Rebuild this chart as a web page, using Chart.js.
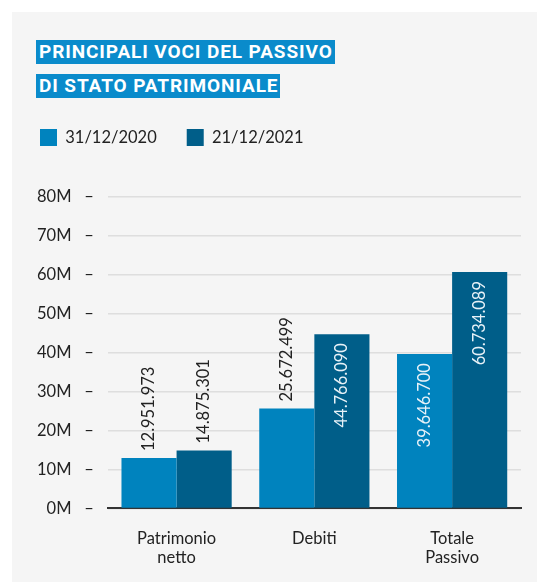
<!DOCTYPE html>
<html>
<head>
<meta charset="utf-8">
<script src="https://cdn.jsdelivr.net/npm/chart.js@4.4.1/dist/chart.umd.min.js"></script>
<style>
  html, body { margin: 0; padding: 0; background: #ffffff; }
  #pannello { position: absolute; left: 12px; top: 12px; width: 525px; height: 570px; background: #f5f5f5; }
  .titolo { position: absolute; left: 36px; background: #0a8bcb; color: #ffffff;
    font-family: Roboto, sans-serif; font-weight: 700; font-size: 19px; letter-spacing: 0.9px;
    line-height: 24px; padding: 0 2px 0 3px; white-space: nowrap; }
  #wrap { position: absolute; left: 0; top: 0; width: 537px; height: 582px; }
</style>
</head>
<body>
<div id="pannello"></div>
<div class="titolo" style="top:40px">PRINCIPALI VOCI DEL PASSIVO</div>
<div class="titolo" style="top:74px">DI STATO PATRIMONIALE</div>
<div id="wrap"><canvas id="graficoPassivo" width="537" height="582"></canvas></div>
<script>
  const categorie = [["Patrimonio", "netto"], "Debiti", ["Totale", "Passivo"]]
  const valori2020 = [12951973, 25672499, 39646700]
  const valori2021 = [14875301, 44766090, 60734089]
  const serie = ["31/12/2020", "21/12/2021"]

  const FONT = "Lato, sans-serif"

  const formatta = (n) => String(n).replace(/\B(?=(\d{3})+(?!\d))/g, ".")

  // etichette ruotate sopra / dentro le barre
  const etichette = {
    id: "etichette",
    afterDatasetsDraw(chart) {
      const ctx = chart.ctx
      chart.data.datasets.forEach((ds, i) => {
        chart.getDatasetMeta(i).data.forEach((barra, j) => {
          const v = ds.data[j]
          const dentro = v > 30000000
          ctx.save()
          ctx.font = "16.5px " + FONT
          ctx.textBaseline = "middle"
          if (dentro) {
            ctx.fillStyle = "#e8f2f8"
            ctx.translate(barra.x, barra.y + 9)
            ctx.rotate(-Math.PI / 2)
            ctx.textAlign = "right"
          } else {
            ctx.fillStyle = "#222222"
            ctx.translate(barra.x, barra.y - 7)
            ctx.rotate(-Math.PI / 2)
            ctx.textAlign = "left"
          }
          ctx.fillText(formatta(v), 0, 0)
          ctx.restore()
        })
      })
    },
  }

  // spazio sotto la legenda e legenda spostata a sinistra
  const spazioLegenda = {
    id: "spazioLegenda",
    beforeInit(chart) {
      const fit = chart.legend.fit
      chart.legend.fit = function () {
        fit.bind(this)()
        this.height += 41
      }
    },
    afterLayout(chart) {
      chart.legend.left = 40 - 30 
    },
  }

  const grafico = document.getElementById("graficoPassivo")

  new Chart(grafico, {
    type: "bar",
    data: {
      labels: categorie,
      datasets: [
        {
          label: serie[0],
          data: valori2020,
          backgroundColor: "#0083be",
          categoryPercentage: 0.8,
          barPercentage: 1.0,
        },
        {
          label: serie[1],
          data: valori2021,
          backgroundColor: "#005e89",
          categoryPercentage: 0.8,
          barPercentage: 1.0,
        },
      ],
    },
    options: {
      responsive: false,
      animation: false,
      devicePixelRatio: 1,
      layout: {
        padding: { left: 23, right: 16, top: 99, bottom: 2 },
      },
      plugins: {
        tooltip: { enabled: false },
        legend: {
          position: "top",
          align: "start",
          labels: {
            boxWidth: 17,
            boxHeight: 17,
            padding: 30,
            color: "#222222",
            font: { family: FONT, size: 16.5 },
          },
        },
      },
      scales: {
        x: {
          grid: { display: false },
          border: { display: true, color: "#333333", width: 2 },
          ticks: {
            color: "#222222",
            padding: 12,
            font: { family: FONT, size: 16.5, lineHeight: 1.2 },
            maxRotation: 0,
          },
        },
        y: {
          min: 0,
          max: 80000000,
          grid: { color: "#dedede", lineWidth: 1.5, drawTicks: false },
          border: { display: false },
          ticks: {
            stepSize: 10000000,
            color: "#222222",
            padding: 14,
            font: { family: FONT, size: 16.5 },
            callback: (v) => v / 1000000 + "M   \u2013",
          },
        },
      },
    },
    plugins: [etichette, spazioLegenda],
  })
</script>
</body>
</html>
